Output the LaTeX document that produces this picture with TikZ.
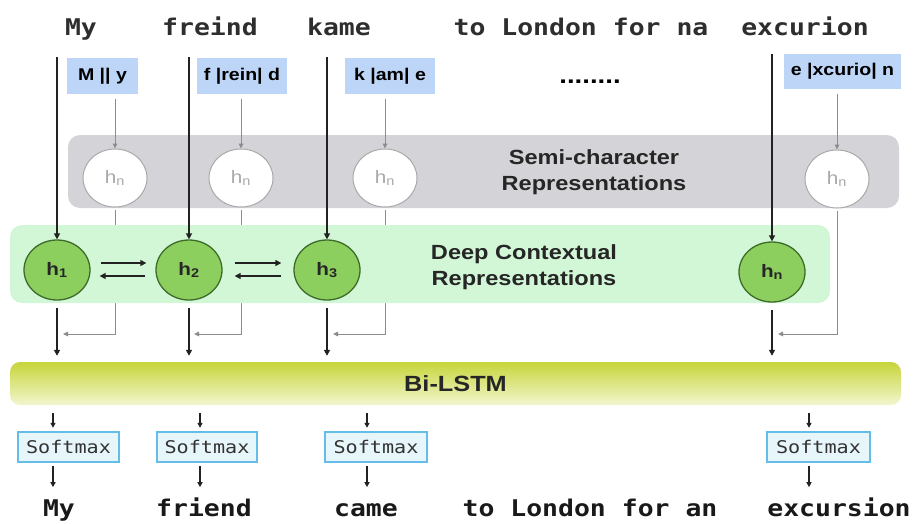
\documentclass[tikz,border=0pt]{standalone}
\usepackage{fontspec}
\setmainfont{Liberation Sans}[FakeStretch=1.15]
\newfontfamily\wordmono{DejaVu Sans Mono}[FakeStretch=1.15]
\usetikzlibrary{shapes.geometric,arrows.meta,calc}
\definecolor{wordc}{HTML}{2E2E2E}
\definecolor{bluec}{HTML}{BDD5F6}
\definecolor{semic}{HTML}{D4D4D8}
\definecolor{gpanel}{HTML}{D2F7D6}
\definecolor{gcirc}{HTML}{8DCF5E}
\definecolor{gborder}{HTML}{3D6B2A}
\definecolor{hngray}{HTML}{A9A9A9}
\definecolor{grayline}{HTML}{8C8C8C}
\definecolor{smborder}{HTML}{63BDE6}
\definecolor{smfill}{HTML}{E6F6FB}
\definecolor{lstmtop}{HTML}{C6D53A}
\definecolor{lstmbot}{HTML}{F3F6CF}
\definecolor{blackc}{HTML}{222222}
\begin{document}
\begin{tikzpicture}[x=1pt,y=-1pt,
  word/.style={font=\wordmono\bfseries\fontsize{23}{23}\selectfont, text=wordc, inner sep=0, anchor=base},
  chbox/.style={fill=bluec, inner sep=0, minimum height=36, font=\bfseries\fontsize{17}{17}\selectfont, text=black},
  panel/.style={rounded corners=12pt, inner sep=0},
  wcirc/.style={ellipse, draw=hngray, line width=1pt, fill=white, minimum width=64, minimum height=58, inner sep=0, text=hngray, font=\fontsize{18}{18}\selectfont},
  gcircle/.style={ellipse, draw=gborder, line width=1.3pt, fill=gcirc, minimum width=66, minimum height=60, inner sep=0, text=black!85, font=\bfseries\fontsize{18}{18}\selectfont},
  paneltext/.style={align=center, font=\bfseries\fontsize{20.5}{25.5}\selectfont, text=black!85},
  smbox/.style={draw=smborder, line width=2.4pt, fill=smfill, minimum height=30, inner sep=0, font=\wordmono\fontsize{17.5}{17.5}\selectfont, text=black!80},
  blk/.style={draw=blackc, line width=1.5pt, -{Triangle[length=6pt,width=6pt]}},
  blks/.style={draw=blackc, line width=1.3pt, -{Triangle[length=5pt,width=5pt]}},
  gry/.style={draw=grayline, line width=1pt, -{Triangle[length=5pt,width=4.5pt]}},
  ]
\useasboundingbox (0,0) rectangle (914,523);

% top words
\node[word] (w1) at (81,35) {My};
\node[word] (w2) at (210,35) {freind};
\node[word] (w3) at (339,35) {kame};
\node[word] (w4) at (581,35) {to London for na};
\node[word] (w5) at (805,35) {excurion};

% character boxes
\node[chbox, minimum width=71] (b1) at (102.5,76) {M || y};
\node[chbox, minimum width=90] (b2) at (242,76) {f |rein| d};
\node[chbox, minimum width=90] (b3) at (390,76) {k |am| e};
\node[chbox, minimum width=117, minimum height=35] (b4) at (842.5,71.5) {e |xcurio| n};
\node[font=\bfseries\fontsize{24}{24}\selectfont, inner sep=0, anchor=base] (dots) at (590,83) {........};

% semi-character panel
\node[panel, fill=semic, minimum width=831, minimum height=73] (semi) at (483.5,171.5) {};
\node[paneltext] (semitxt) at (594,172) {Semi-character\\Representations};
\node[wcirc] (s1) at (115,178) {h\textsubscript{n}};
\node[wcirc] (s2) at (241,178) {h\textsubscript{n}};
\node[wcirc] (s3) at (385,178) {h\textsubscript{n}};
\node[wcirc] (s4) at (837,179) {h\textsubscript{n}};

% gray arrows from char boxes to semi circles
\foreach \i in {1,2,3,4}{
  \draw[gry, shorten <=5pt] (s\i |- b\i.south) -- (s\i.north);
}

% return paths (drawn behind the green panel)
\coordinate (r1) at (63,334);
\coordinate (r2) at (194,334);
\coordinate (r3) at (333,334);
\coordinate (r4) at (778,334);
\foreach \i in {1,2,3,4}{
  \draw[gry, shorten <=2pt] (s\i.south) |- (r\i);
}

% deep contextual panel
\node[panel, fill=gpanel, minimum width=820, minimum height=78] (deep) at (420,264) {};
\node[paneltext] (deeptxt) at (524,267) {Deep Contextual\\Representations};
\node[gcircle] (g1) at (57,270) {h\textsubscript{1}};
\node[gcircle] (g2) at (189,270) {h\textsubscript{2}};
\node[gcircle] (g3) at (327,270) {h\textsubscript{3}};
\node[gcircle] (g4) at (772,272) {h\textsubscript{n}};

% bidirectional arrows
\draw[blk, line width=1.4pt, shorten <=10pt, shorten >=9pt] ([yshift=7pt]g1.east) -- ([yshift=7pt]g2.west);
\draw[blk, line width=1.4pt, shorten <=10pt, shorten >=9pt] ([yshift=-6pt]g2.west) -- ([yshift=-6pt]g1.east);
\draw[blk, line width=1.4pt, shorten <=12pt, shorten >=12pt] ([yshift=7pt]g2.east) -- ([yshift=7pt]g3.west);
\draw[blk, line width=1.4pt, shorten <=12pt, shorten >=12pt] ([yshift=-6pt]g3.west) -- ([yshift=-6pt]g2.east);

% long arrows from words to green circles
\coordinate (t1) at (57,57);
\coordinate (t2) at (189,57);
\coordinate (t3) at (327,57);
\coordinate (t4) at (772,54);
\foreach \i in {1,2,3,4}{
  \draw[blk] (t\i) -- (g\i.north);
}

% Bi-LSTM bar
\node[panel, rounded corners=10pt, top color=lstmtop, bottom color=lstmbot, minimum width=891, minimum height=43,
      font=\bfseries\fontsize{22}{22}\selectfont, text=black!85] (lstm) at (455.5,383.5) {Bi-LSTM};

% arrows from green circles to Bi-LSTM
\foreach \i in {1,2,3,4}{
  \draw[blk, shorten <=7pt, shorten >=6pt] (g\i.south) -- (g\i |- lstm.north);
}

% softmax boxes
\node[smbox, minimum width=101] (sm1) at (68.5,447) {Softmax};
\node[smbox, minimum width=100] (sm2) at (207,447) {Softmax};
\node[smbox, minimum width=102] (sm3) at (376,447) {Softmax};
\node[smbox, minimum width=103] (sm4) at (818.5,447) {Softmax};

% output words
\node[word, text=black!90] (o1) at (59,516) {My};
\node[word, text=black!90] (o2) at (204,516) {friend};
\node[word, text=black!90] (o3) at (366,516) {came};
\node[word, text=black!90] (o4) at (590,516) {to London for an};
\node[word, text=black!90] (o5) at (839,516) {excursion};

\foreach \i/\dx in {1/-15.5, 2/-7, 3/-9, 4/-9.5}{
  \draw[blks] ([xshift=\dx pt]sm\i.north |- lstm.south) ++(0,8) -- ([xshift=\dx pt, yshift=3pt]sm\i.north);
  \draw[blks] ([xshift=\dx pt, yshift=-3pt]sm\i.south) -- ([xshift=\dx pt, yshift=-24pt]sm\i.south);
}
\end{tikzpicture}
\end{document}
